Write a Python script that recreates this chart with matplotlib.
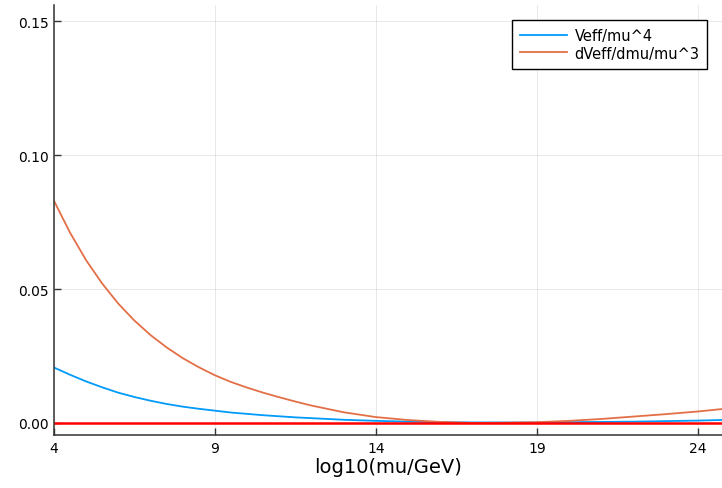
import matplotlib.pyplot as plt

# log10(mu/GeV) sample points
x_vals = [4, 4.5, 5, 5.5, 6, 6.5, 7, 7.5, 8, 8.5, 9, 9.5, 10, 10.5, 11,
          11.5, 12, 13, 14, 15, 16, 17, 18, 19, 20, 21, 22, 23, 24, 25]

veff = [0.0207, 0.0180, 0.0155, 0.0133, 0.0113, 0.0097, 0.0083, 0.0071,
        0.0061, 0.0053, 0.0046, 0.0039, 0.0034, 0.0029, 0.0025, 0.0021,
        0.0018, 0.0012, 0.0008, 0.0005, 0.0003, 0.0002, 0.0002, 0.0002,
        0.0003, 0.0004, 0.0005, 0.0007, 0.0009, 0.0012]

dveff = [0.0829, 0.0710, 0.0607, 0.0520, 0.0445, 0.0382, 0.0328, 0.0282,
         0.0242, 0.0208, 0.0178, 0.0153, 0.0132, 0.0113, 0.0096, 0.0080,
         0.0065, 0.0040, 0.0022, 0.0011, 0.0004, 0.0000, 0.0001, 0.0003,
         0.0008, 0.0015, 0.0024, 0.0033, 0.0043, 0.0055]

x_ticks = [4, 9, 14, 19, 24]
y_ticks = [0.00, 0.05, 0.10, 0.15]

fig = plt.figure(figsize=(7.22, 4.89), dpi=100)
ax = fig.add_axes([54 / 722, 1 - 436 / 489, (722 - 54) / 722, (436 - 6) / 489])

ax.plot(x_vals, veff, color="#009AFA", lw=1.3, label="Veff/mu^4")
ax.plot(x_vals, dveff, color="#E36F47", lw=1.3, label="dVeff/dmu/mu^3")
ax.axhline(0.0, color="red", lw=1.8)

ax.set_xlim(4, 24.75)
ax.set_ylim(-0.00448, 0.156)
ax.set_xticks(x_ticks)
ax.set_yticks(y_ticks)
ax.set_yticklabels([f"{v:.2f}" for v in y_ticks])
ax.set_xlabel("log10(mu/GeV)", fontsize=14, labelpad=2)

ax.grid(True, color="#000000", alpha=0.1, lw=0.6)
for side in ("top", "right"):
    ax.spines[side].set_visible(False)
for side in ("left", "bottom"):
    ax.spines[side].set_color("#333333")
    ax.spines[side].set_linewidth(1.1)
ax.tick_params(direction="in", length=5, width=1, colors="#333333",
               labelsize=10, labelcolor="black", pad=4)

leg = ax.legend(loc="upper right", fontsize=10.5, frameon=True, fancybox=False,
                edgecolor="black", framealpha=1, handlelength=3.2,
                handletextpad=0.5, labelspacing=0.2, borderaxespad=1.0,
                borderpad=0.55)
leg.get_frame().set_linewidth(1.0)

fig.savefig("out.png", dpi=100)
